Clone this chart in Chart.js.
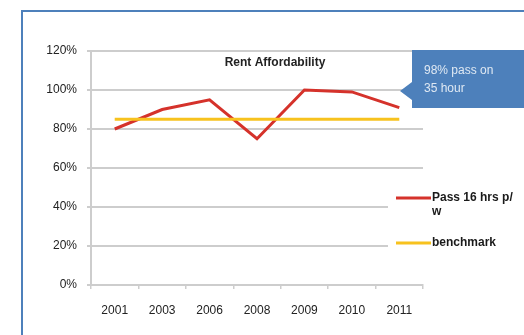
<!DOCTYPE html>
<html>
<head>
<meta charset="utf-8">
<script src="https://cdn.jsdelivr.net/npm/chart.js@4.4.1/dist/chart.umd.min.js"></script>
<style>
  html, body { margin: 0; padding: 0; background: #fff; }
  #wrap { width: 524px; height: 335px; }
</style>
</head>
<body>
<div id="wrap"><canvas id="rentChart" width="524" height="335"></canvas></div>
<script>
// values
const years = ['2001', '2003', '2006', '2008', '2009', '2010', '2011'];
const passRate = [0.80, 0.90, 0.95, 0.75, 1.00, 0.99, 0.91];
const benchmark = [0.85, 0.85, 0.85, 0.85, 0.85, 0.85, 0.85];
const seriesLabels = [['Pass 16 hrs p/', 'w'], ['benchmark']];
const chartTitle = 'Rent Affordability';
const calloutText = ['98% pass on', '35 hour'];

const RED = '#d5322b';
const YELLOW = '#f7c21e';
const GRID = '#cdcdcd';
const BLUE = '#4d80bb';
const FONT = '"Liberation Sans", Arial, sans-serif';

// outer blue frame, running off the right and bottom of the picture
const framePlugin = {
  id: 'frame',
  beforeDraw(chart) {
    const ctx = chart.ctx;
    ctx.save();
    ctx.fillStyle = '#fff';
    ctx.fillRect(0, 0, chart.width, chart.height);
    ctx.strokeStyle = BLUE;
    ctx.lineWidth = 2;
    ctx.beginPath();
    ctx.moveTo(22, chart.height + 5);
    ctx.lineTo(22, 11);
    ctx.lineTo(chart.width + 5, 11);
    ctx.stroke();
    ctx.restore();
  },
};

// title inside the plot, legend on the right, blue callout
const overlayPlugin = {
  id: 'overlay',
  afterDraw(chart) {
    const ctx = chart.ctx;
    const area = chart.chartArea;
    const y = chart.scales.y;
    ctx.save();

    // title
    ctx.fillStyle = '#222';
    ctx.font = 'bold 12px ' + FONT;
    ctx.textAlign = 'center';
    ctx.textBaseline = 'middle';
    ctx.fillText(chartTitle, area.left + 184, area.top + 12);

    // legend (white box hides the grid lines behind it)
    ctx.fillStyle = '#fff';
    ctx.fillRect(area.right - 35, 186, 200, 66);
    const colors = [RED, YELLOW];
    const rows = [198, 243];
    ctx.textAlign = 'left';
    ctx.lineWidth = 3;
    seriesLabels.forEach((lines, i) => {
      ctx.strokeStyle = colors[i];
      ctx.beginPath();
      ctx.moveTo(area.right - 27, rows[i]);
      ctx.lineTo(area.right + 8, rows[i]);
      ctx.stroke();
      ctx.fillStyle = '#1a1a1a';
      lines.forEach((t, j) => ctx.fillText(t, area.right + 9, rows[i] + j * 14));
    });

    // callout pointing at the 100% line
    const tipY = y.getPixelForValue(0.995);
    const bx = area.right - 11;
    ctx.fillStyle = BLUE;
    ctx.beginPath();
    ctx.moveTo(bx, 50);
    ctx.lineTo(chart.width + 2, 50);
    ctx.lineTo(chart.width + 2, 108);
    ctx.lineTo(bx, 108);
    ctx.lineTo(bx, tipY + 9);
    ctx.lineTo(bx - 12, tipY);
    ctx.lineTo(bx, tipY - 9);
    ctx.closePath();
    ctx.fill();
    ctx.fillStyle = '#dfe8f3';
    ctx.font = '12px ' + FONT;
    ctx.fillText(calloutText[0], bx + 12, 71);
    ctx.fillText(calloutText[1], bx + 12, 89);

    ctx.restore();
  },
};

new Chart(document.getElementById('rentChart'), {
  type: 'line',
  data: {
    labels: years,
    datasets: [
      {
        label: seriesLabels[1].join(' '),
        data: benchmark,
        borderColor: YELLOW,
        borderWidth: 3,
        pointRadius: 0,
        tension: 0,
        order: 1,
      },
      {
        label: seriesLabels[0].join(''),
        data: passRate,
        borderColor: RED,
        borderWidth: 3,
        pointRadius: 0,
        tension: 0,
        order: 2,
      },
    ],
  },
  options: {
    responsive: false,
    animation: false,
    devicePixelRatio: 1,
    layout: {
      padding: { top: 51, right: 101, left: 0, bottom: 0 },
    },
    plugins: {
      legend: { display: false },
      tooltip: { enabled: false },
      title: { display: false },
    },
    scales: {
      x: {
        offset: true,
        afterFit(scale) { scale.height = 50; },
        grid: {
          offset: true, // tick marks between the years
          drawOnChartArea: false,
          drawTicks: true,
          tickLength: 4,
          color: GRID,
          lineWidth: 1.5,
        },
        border: { color: GRID, width: 2 },
        ticks: {
          color: '#222',
          padding: 14,
          maxRotation: 0,
          font: { family: FONT, size: 12 },
        },
      },
      y: {
        min: 0,
        max: 1.2,
        afterFit(scale) { scale.width = 91; },
        grid: {
          color: GRID,
          lineWidth: 2,
          tickLength: 4,
        },
        border: { color: GRID, width: 2 },
        ticks: {
          stepSize: 0.2,
          color: '#222',
          padding: 10,
          font: { family: FONT, size: 12 },
          callback: (v) => Math.round(v * 100) + '%',
        },
      },
    },
  },
  plugins: [framePlugin, overlayPlugin],
});
</script>
</body>
</html>
